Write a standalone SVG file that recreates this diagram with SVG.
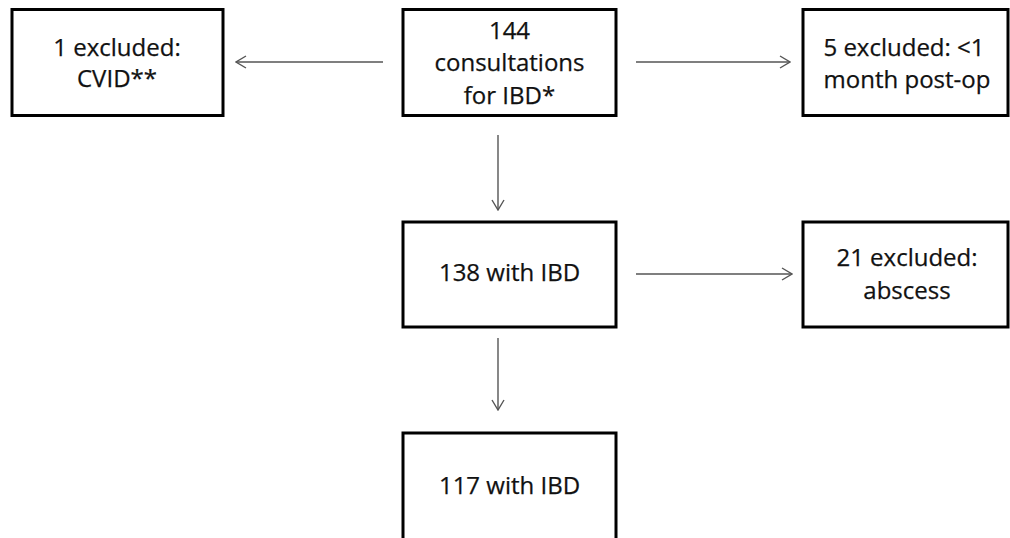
<svg xmlns="http://www.w3.org/2000/svg" width="1010" height="538" viewBox="0 0 1010 538">
  <defs>
    <style>
      .box { fill: #ffffff; stroke: #000000; stroke-width: 3; }
      .lbl { font-family: "Open Sans", "Liberation Sans", sans-serif; font-size: 24px; fill: #111111; stroke: #111111; stroke-width: 0.25; text-anchor: middle; }
      .edge { stroke: #555555; stroke-width: 1.4; fill: none; marker-end: url(#chev); }
    </style>
    <marker id="chev" viewBox="0 0 12 14" refX="11" refY="7" markerWidth="12" markerHeight="14" markerUnits="userSpaceOnUse" orient="auto">
      <path d="M1,1 L11,7 L1,13" fill="none" stroke="#555555" stroke-width="1.4"/>
    </marker>
  </defs>
  <rect width="1010" height="538" fill="#ffffff"/>

  <g id="connectors">
    <line class="edge" x1="383" y1="62" x2="236" y2="62"/>
    <line class="edge" x1="636" y1="62" x2="790" y2="62"/>
    <line class="edge" x1="498" y1="135" x2="498" y2="210"/>
    <line class="edge" x1="636" y1="274" x2="792" y2="274"/>
    <line class="edge" x1="498" y1="338" x2="498" y2="410"/>
  </g>

  <g id="n-excluded-cvid">
    <rect class="box" x="12" y="9.5" width="211" height="106"/>
    <text class="lbl" x="117" y="56">1 excluded:</text>
    <text class="lbl" x="117" y="87">CVID**</text>
  </g>

  <g id="n-consultations">
    <rect class="box" x="403" y="9.5" width="213" height="106"/>
    <text class="lbl" x="509.5" y="39">144</text>
    <text class="lbl" x="509.5" y="71">consultations</text>
    <text class="lbl" x="509.5" y="104">for IBD*</text>
  </g>

  <g id="n-excluded-postop">
    <rect class="box" x="803" y="9.5" width="205" height="106"/>
    <text class="lbl" x="904" y="56">5 excluded: &lt;1</text>
    <text class="lbl" x="907" y="88">month post-op</text>
  </g>

  <g id="n-138">
    <rect class="box" x="403" y="222" width="213" height="105"/>
    <text class="lbl" x="509.5" y="281">138 with IBD</text>
  </g>

  <g id="n-excluded-abscess">
    <rect class="box" x="803" y="222" width="205" height="105"/>
    <text class="lbl" x="907" y="266">21 excluded:</text>
    <text class="lbl" x="907" y="299">abscess</text>
  </g>

  <g id="n-117">
    <rect class="box" x="403" y="433" width="213" height="108"/>
    <text class="lbl" x="509.5" y="494">117 with IBD</text>
  </g>
</svg>
